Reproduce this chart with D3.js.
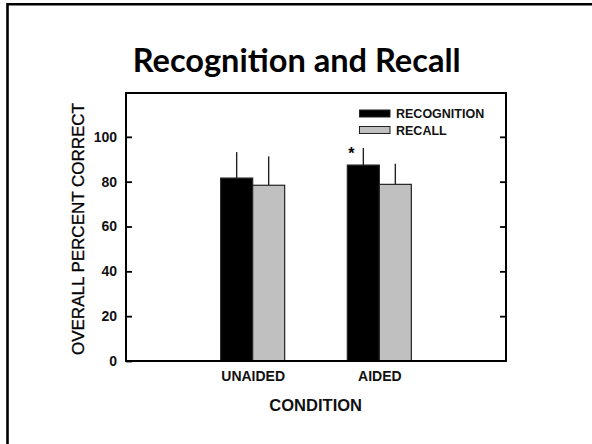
<!DOCTYPE html>
<html>
<head>
<meta charset="utf-8">
<script src="https://cdn.jsdelivr.net/npm/d3@7"></script>
<style>
  html, body { margin: 0; padding: 0; background: #fff; }
  svg { display: block; font-family: "Liberation Sans", Arial, sans-serif; }
</style>
</head>
<body>
<div id="chart"></div>
<script>
// Mean overall percent correct by listening condition, with upper error bars
const conditions = ["UNAIDED", "AIDED"];
const series = ["RECOGNITION", "RECALL"];
const recognition = [81.6, 87.4];
const recall = [78.4, 78.8];
const recognitionUpper = [93.2, 95.0];
const recallUpper = [91.3, 88.0];
const significant = [false, true];
const yTicks = [0, 20, 40, 60, 80, 100];

const W = 592, H = 444;
const frame = { left: 126, right: 506, top: 93, bottom: 361 };
const fills = { RECOGNITION: "#000000", RECALL: "#c0c0c0" };
const sans = "'Liberation Sans', Arial, sans-serif";

const svg = d3.select("#chart").append("svg")
  .attr("width", W).attr("height", H);

// slide border
svg.append("path")
  .attr("d", `M7.5,${H + 5} V4.2 H${W + 5}`)
  .attr("fill", "none").attr("stroke", "#000").attr("stroke-width", 2.6);

// title
svg.append("text")
  .attr("x", 296.7).attr("y", 71.7)
  .attr("text-anchor", "middle")
  .style("font-family", "Lato, 'Open Sans', sans-serif")
  .style("font-weight", 700)
  .style("font-size", "32px")
  .attr("textLength", 328).attr("lengthAdjust", "spacingAndGlyphs")
  .attr("fill", "#000")
  .text("Recognition and Recall");

const y = d3.scaleLinear().domain([0, 120]).range([frame.bottom, frame.top - 1]);
const x0 = d3.scalePoint().domain(conditions).range([frame.left, frame.right]).padding(1);
const groupW = 64;
const x1 = d3.scaleBand().domain(series).range([-groupW / 2, groupW / 2]).padding(0);

const rows = conditions.map((c, i) => ({
  condition: c,
  values: [
    { key: "RECOGNITION", value: recognition[i], upper: recognitionUpper[i] },
    { key: "RECALL", value: recall[i], upper: recallUpper[i] }
  ],
  star: significant[i]
}));

const g = svg.append("g");

// error bars (upper only) drawn beneath bar outlines
rows.forEach(r => {
  r.values.forEach(v => {
    const cx = x0(r.condition) + x1(v.key) + x1.bandwidth() / 2;
    g.append("line")
      .attr("x1", cx).attr("x2", cx)
      .attr("y1", y(v.value)).attr("y2", y(v.upper))
      .attr("stroke", "#222").attr("stroke-width", 1.4);
  });
});

// bars
rows.forEach(r => {
  g.selectAll(null).data(r.values).enter().append("rect")
    .attr("x", d => x0(r.condition) + x1(d.key))
    .attr("y", d => y(d.value))
    .attr("width", x1.bandwidth())
    .attr("height", d => y(0) - y(d.value))
    .attr("fill", d => fills[d.key])
    .attr("stroke", "#222").attr("stroke-width", 1.2);
  if (r.star) {
    const d = r.values[0];
    g.append("text")
      .attr("x", x0(r.condition) + x1(d.key) + 4)
      .attr("y", y(d.upper) + 11)
      .attr("text-anchor", "middle")
      .style("font-family", sans)
      .style("font-size", "16px").style("font-weight", 700)
      .text("*");
  }
});

// left axis
const left = svg.append("g")
  .attr("transform", `translate(${frame.left},0)`)
  .call(d3.axisLeft(y).tickValues(yTicks).tickSize(-6).tickPadding(9));
left.select(".domain").remove();
left.selectAll(".tick line").attr("stroke", "#000").attr("stroke-width", 1.8);
left.selectAll(".tick text")
  .style("font-family", sans)
  .style("font-size", "14px").style("font-weight", 700).attr("fill", "#111");

// right axis
const right = svg.append("g")
  .attr("transform", `translate(${frame.right},0)`)
  .call(d3.axisRight(y).tickValues(yTicks.slice(1)).tickSize(-6).tickFormat(""));
right.select(".domain").remove();
right.selectAll(".tick line").attr("stroke", "#000").attr("stroke-width", 1.8);

// category labels
const bottom = svg.append("g")
  .attr("transform", `translate(0,${frame.bottom})`)
  .call(d3.axisBottom(x0).tickSize(0).tickPadding(10));
bottom.select(".domain").remove();
bottom.selectAll(".tick text")
  .style("font-family", sans)
  .style("font-size", "14px").style("font-weight", 700).attr("fill", "#111");

// plot frame
svg.append("rect")
  .attr("x", frame.left).attr("y", frame.top)
  .attr("width", frame.right - frame.left).attr("height", frame.bottom - frame.top)
  .attr("fill", "none").attr("stroke", "#000").attr("stroke-width", 2);

// axis titles
svg.append("text")
  .attr("x", (frame.left + frame.right) / 2 - 0.3).attr("y", 411)
  .attr("text-anchor", "middle")
  .style("font-family", sans)
  .style("font-size", "17px").style("font-weight", 700).attr("fill", "#111")
  .attr("textLength", 92.7).attr("lengthAdjust", "spacingAndGlyphs")
  .text("CONDITION");

svg.append("text")
  .attr("transform", `translate(84,229) rotate(-90)`)
  .attr("text-anchor", "middle")
  .style("font-family", sans)
  .style("font-size", "17px").attr("fill", "#000")
  .attr("stroke", "#000").attr("stroke-width", 0.3)
  .attr("textLength", 252).attr("lengthAdjust", "spacingAndGlyphs")
  .text("OVERALL PERCENT CORRECT");

// legend
const legend = svg.append("g").attr("transform", "translate(359.5,110)");
series.forEach((s, i) => {
  const row = legend.append("g").attr("transform", `translate(0,${i * 16.5})`);
  row.append("rect")
    .attr("x", 0).attr("y", 0).attr("width", 30.5).attr("height", 7)
    .attr("fill", fills[s]).attr("stroke", "#222").attr("stroke-width", 1);
  row.append("text")
    .attr("x", 36.5).attr("y", 8)
    .style("font-family", sans)
    .style("font-size", "12.5px").style("font-weight", 700).attr("fill", "#111")
    .text(s);
});
</script>
</body>
</html>
